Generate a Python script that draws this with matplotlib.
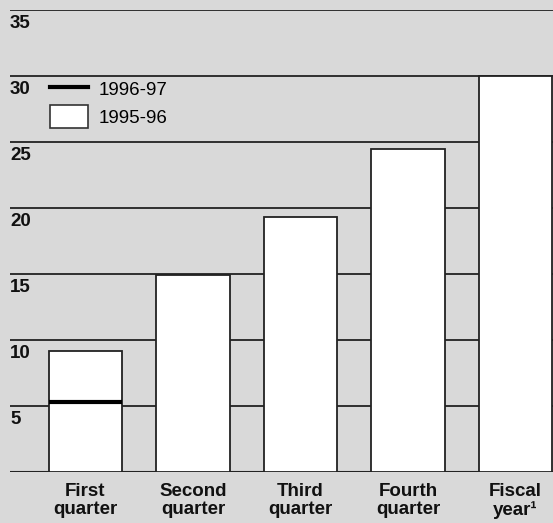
import matplotlib
matplotlib.use("Agg")
import matplotlib.pyplot as plt
from matplotlib.lines import Line2D
from matplotlib.patches import Patch

categories = ["First\nquarter", "Second\nquarter", "Third\nquarter", "Fourth\nquarter", "Fiscal\nyear\u00b9"]
values_9596 = [9.2, 14.9, 19.3, 24.5, 30.0]
values_9697 = [5.3]
yticks = [5, 10, 15, 20, 25, 30, 35]

plt.rcParams['font.family'] = ['Liberation Sans', 'DejaVu Sans']
bg = '#d9d9d9'
fig = plt.figure(figsize=(5.53, 5.23), dpi=100, facecolor=bg)
ax = fig.add_axes([10/553, 51/523, 543/553, 462/523], facecolor=bg)

x = list(range(len(categories)))
ax.set_xlim(-0.702, 4.349)
ax.set_ylim(0, 35)

for t in yticks:
    ax.axhline(t, color='#222222', lw=1.3, zorder=1)
    ax.text(0.0, t - 0.4, str(t), transform=ax.get_yaxis_transform(), ha='left', va='top',
            fontsize=13.5, fontweight='bold', color='#111111')
ax.axhline(0, color='#222222', lw=1.5, zorder=1)

w = 0.68
ax.bar(x, values_9596, width=w, color='white', edgecolor='#222222', linewidth=1.3, zorder=2)
for i, v in enumerate(values_9697):
    ax.hlines(v, i - w/2, i + w/2, color='black', lw=3, zorder=3)

for i, c in enumerate(categories):
    ax.text(i, -0.85, c, ha='center', va='top', fontsize=13.5, fontweight='bold',
            linespacing=1.08, color='#111111')

handles = [Line2D([0], [0], color='black', lw=3),
           Patch(facecolor='white', edgecolor='#333333', linewidth=1.2)]
leg = ax.legend(handles, ['1996-97', '1995-96'], loc='upper left', bbox_to_anchor=(0.06, 0.87),
                frameon=False, fontsize=13.5, handlelength=2.0, handleheight=1.55,
                handletextpad=0.6, labelspacing=0.2, borderaxespad=0)

for s in ax.spines.values():
    s.set_visible(False)
ax.set_xticks([])
ax.set_yticks([])

fig.savefig('out.png', dpi=100, facecolor=bg)
